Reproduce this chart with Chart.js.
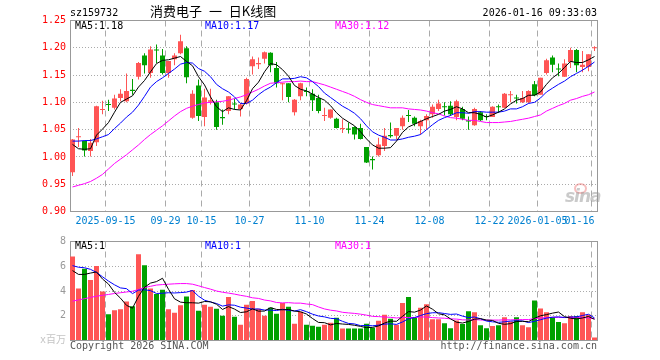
<!DOCTYPE html>
<html><head><meta charset="utf-8">
<script src="https://cdn.jsdelivr.net/npm/chart.js@4"></script>
<style>
html,body{margin:0;padding:0;background:#fff;}
#wrap{position:relative;width:660px;height:360px;overflow:hidden;font-family:"DejaVu Sans Mono",monospace;}
canvas{position:absolute;left:0;}
.t{position:absolute;white-space:pre;font-size:10px;line-height:12px;font-family:"DejaVu Sans Mono",monospace;}
</style></head><body>
<div id="wrap">
<canvas id="kc" width="660" height="232" style="top:0"></canvas>
<canvas id="vc" width="660" height="128" style="top:232px"></canvas>
<div class="t" style="left:70px;top:7px;color:#000">sz159732</div>
<div class="t" style="left:150px;top:4px;font-size:13px;line-height:13px;word-spacing:4px;font-family:'Noto Sans CJK SC',sans-serif;color:#000">消费电子 一 日K线图</div>
<div class="t" style="right:63px;top:7px;color:#000">2026-01-16 09:33:03</div>
<div class="t" id="l5" style="left:75px;top:20px;color:#000"></div>
<div class="t" id="l10" style="left:205px;top:20px;color:#00f"></div>
<div class="t" id="l30" style="left:335px;top:20px;color:#f0f"></div>
<div class="t" id="v5" style="left:75px;top:240px;color:#000"></div>
<div class="t" id="v10" style="left:205px;top:240px;color:#00f"></div>
<div class="t" id="v30" style="left:335px;top:240px;color:#f0f"></div>
<div class="t" style="left:70px;top:340px;color:#555">Copyright 2026 SINA.COM</div>
<div class="t" style="right:63px;top:340px;color:#555">http://finance.sina.com.cn</div>
<div style="position:absolute;left:574px;top:183px;width:9px;height:7px;border-radius:50%;border:2px solid rgba(235,110,110,0.45);"></div>
<div style="position:absolute;left:565px;top:186px;font:italic bold 17px 'DejaVu Sans',sans-serif;color:rgba(150,150,150,0.5);letter-spacing:-1px;">sina</div>
</div>
<script>
const dates = ['2025-09-05','2025-09-08','2025-09-09','2025-09-10','2025-09-11','2025-09-12','2025-09-15','2025-09-16','2025-09-17','2025-09-18',
'2025-09-19','2025-09-22','2025-09-23','2025-09-24','2025-09-25','2025-09-26','2025-09-29','2025-09-30','2025-10-09','2025-10-10',
'2025-10-13','2025-10-14','2025-10-15','2025-10-16','2025-10-17','2025-10-20','2025-10-21','2025-10-22','2025-10-23','2025-10-24',
'2025-10-27','2025-10-28','2025-10-29','2025-10-30','2025-10-31','2025-11-03','2025-11-04','2025-11-05','2025-11-06','2025-11-07',
'2025-11-10','2025-11-11','2025-11-12','2025-11-13','2025-11-14','2025-11-17','2025-11-18','2025-11-19','2025-11-20','2025-11-21',
'2025-11-24','2025-11-25','2025-11-26','2025-11-27','2025-11-28','2025-12-01','2025-12-02','2025-12-03','2025-12-04','2025-12-05',
'2025-12-08','2025-12-09','2025-12-10','2025-12-11','2025-12-12','2025-12-15','2025-12-16','2025-12-17','2025-12-18','2025-12-19',
'2025-12-22','2025-12-23','2025-12-24','2025-12-25','2025-12-26','2025-12-29','2025-12-30','2025-12-31','2026-01-05','2026-01-06',
'2026-01-07','2026-01-08','2026-01-09','2026-01-12','2026-01-13','2026-01-14','2026-01-15','2026-01-16'];

const opens = [0.972,1.036,1.029,1.011,1.027,1.086,1.097,1.090,1.108,1.102,
1.123,1.147,1.186,1.154,1.197,1.186,1.154,1.179,1.190,1.199,
1.072,1.131,1.073,1.101,1.100,1.073,1.084,1.098,1.088,1.098,
1.166,1.170,1.180,1.191,1.163,1.133,1.135,1.082,1.111,1.121,
1.116,1.108,1.075,1.072,1.070,1.051,1.052,1.055,1.053,1.018,
0.996,1.003,1.020,1.040,1.039,1.056,1.077,1.072,1.056,1.067,
1.078,1.088,1.093,1.094,1.073,1.088,1.067,1.058,1.082,1.075,
1.073,1.093,1.090,1.113,1.109,1.100,1.100,1.133,1.114,1.154,
1.182,1.162,1.147,1.174,1.196,1.165,1.165,1.199];
const highs = [1.033,1.053,1.030,1.033,1.094,1.103,1.105,1.114,1.124,1.153,
1.143,1.174,1.190,1.203,1.206,1.198,1.176,1.190,1.224,1.203,
1.122,1.142,1.125,1.125,1.105,1.087,1.111,1.107,1.099,1.145,
1.184,1.182,1.193,1.192,1.174,1.136,1.135,1.106,1.136,1.127,
1.124,1.114,1.090,1.087,1.072,1.069,1.063,1.056,1.061,1.018,
1.001,1.035,1.053,1.063,1.053,1.076,1.086,1.074,1.068,1.078,
1.096,1.105,1.100,1.102,1.105,1.092,1.074,1.090,1.084,1.078,
1.093,1.096,1.117,1.121,1.114,1.121,1.122,1.139,1.145,1.180,
1.186,1.171,1.179,1.200,1.198,1.194,1.188,1.203];
const lows = [0.965,1.018,1.001,1.001,1.020,1.078,1.084,1.087,1.102,1.100,
1.114,1.142,1.153,1.145,1.172,1.151,1.145,1.168,1.188,1.135,
1.070,1.066,1.056,1.096,1.050,1.059,1.078,1.087,1.074,1.096,
1.151,1.161,1.171,1.155,1.127,1.104,1.100,1.076,1.104,1.111,
1.084,1.080,1.066,1.070,1.052,1.044,1.043,1.032,1.032,0.989,
0.977,1.001,1.011,1.035,1.032,1.050,1.064,1.056,1.041,1.050,
1.072,1.084,1.076,1.075,1.067,1.067,1.050,1.057,1.066,1.067,
1.073,1.081,1.090,1.100,1.098,1.099,1.098,1.111,1.114,1.151,
1.155,1.148,1.147,1.163,1.155,1.155,1.157,1.194];
const closes = [1.032,1.038,1.012,1.026,1.093,1.088,1.095,1.107,1.116,1.121,
1.121,1.172,1.168,1.197,1.195,1.154,1.176,1.186,1.212,1.146,
1.116,1.075,1.109,1.104,1.055,1.071,1.111,1.096,1.096,1.143,
1.179,1.172,1.192,1.168,1.135,1.135,1.110,1.105,1.135,1.119,
1.104,1.084,1.077,1.087,1.053,1.053,1.050,1.041,1.033,0.990,
0.994,1.023,1.039,1.038,1.053,1.072,1.075,1.061,1.066,1.075,
1.092,1.098,1.091,1.078,1.102,1.070,1.065,1.088,1.067,1.073,
1.092,1.091,1.116,1.115,1.107,1.108,1.121,1.113,1.145,1.177,
1.169,1.160,1.171,1.196,1.168,1.169,1.188,1.200];

const ma5 = [1.023,1.015,1.014,1.015,1.040,1.051,1.063,1.082,1.100,1.106,
1.112,1.128,1.140,1.156,1.171,1.177,1.178,1.181,1.184,1.175,
1.167,1.147,1.132,1.110,1.092,1.083,1.090,1.087,1.086,1.103,
1.125,1.137,1.156,1.171,1.169,1.160,1.148,1.131,1.124,1.121,
1.115,1.109,1.104,1.094,1.081,1.071,1.064,1.057,1.046,1.033,
1.022,1.016,1.016,1.017,1.029,1.045,1.055,1.060,1.065,1.070,
1.074,1.078,1.084,1.087,1.092,1.088,1.081,1.081,1.078,1.073,
1.077,1.082,1.088,1.097,1.104,1.107,1.113,1.113,1.119,1.133,
1.145,1.153,1.164,1.175,1.173,1.173,1.178,1.184];
const ma10 = [1.029,1.029,1.030,1.030,1.033,1.037,1.041,1.052,1.062,1.073,
1.082,1.095,1.111,1.128,1.138,1.145,1.153,1.161,1.170,1.173,
1.172,1.162,1.157,1.147,1.133,1.125,1.119,1.110,1.098,1.098,
1.104,1.114,1.122,1.128,1.136,1.143,1.143,1.144,1.147,1.145,
1.138,1.129,1.117,1.109,1.101,1.093,1.087,1.080,1.070,1.057,
1.046,1.040,1.036,1.031,1.031,1.033,1.036,1.038,1.041,1.050,
1.059,1.067,1.072,1.076,1.081,1.081,1.080,1.083,1.083,1.082,
1.082,1.082,1.084,1.088,1.088,1.092,1.098,1.100,1.108,1.119,
1.126,1.133,1.139,1.147,1.153,1.159,1.166,1.174];
const ma30 = [0.945,0.948,0.951,0.955,0.961,0.968,0.978,0.988,0.996,1.004,
1.013,1.022,1.032,1.041,1.049,1.057,1.066,1.075,1.083,1.089,
1.093,1.096,1.099,1.100,1.101,1.102,1.104,1.107,1.110,1.114,
1.119,1.124,1.130,1.135,1.136,1.137,1.138,1.138,1.139,1.138,
1.138,1.135,1.132,1.128,1.124,1.120,1.116,1.111,1.105,1.100,
1.096,1.094,1.092,1.090,1.090,1.090,1.088,1.087,1.086,1.084,
1.081,1.079,1.075,1.072,1.071,1.069,1.067,1.067,1.065,1.063,
1.063,1.063,1.064,1.065,1.067,1.069,1.071,1.074,1.077,1.084,
1.089,1.094,1.098,1.104,1.107,1.111,1.114,1.119];

const volumes = [6.79,4.21,5.79,4.89,6.03,3.95,2.13,2.45,2.53,3.16,
2.76,6.97,6.08,4.21,3.76,4.11,2.53,2.24,2.84,3.55,
4.08,2.40,2.88,2.72,2.56,2.00,3.52,1.92,1.28,2.88,
3.20,2.56,2.00,2.64,2.16,3.04,2.72,1.36,2.32,1.28,
1.20,1.12,1.28,1.44,1.84,0.96,0.96,0.96,0.96,1.36,
1.04,1.60,2.08,1.76,1.28,3.04,3.52,1.84,2.64,2.92,
1.71,1.71,1.39,1.00,1.61,1.34,2.37,2.29,1.24,1.00,
1.18,1.24,1.87,1.53,1.87,1.24,1.08,3.24,2.58,2.29,
1.87,1.50,1.39,1.97,1.97,2.29,2.08,0.24];
const vma5 = [5.65,5.34,5.34,5.45,5.54,4.97,4.56,3.89,3.42,2.84,
2.61,3.57,4.30,4.64,4.76,5.03,4.14,3.37,3.10,3.05,
3.05,3.02,3.15,3.13,2.93,2.51,2.74,2.54,2.26,2.32,
2.56,2.37,2.38,2.66,2.51,2.48,2.51,2.38,2.32,2.14,
1.78,1.46,1.44,1.26,1.38,1.33,1.30,1.23,1.14,1.04,
1.06,1.18,1.41,1.57,1.55,1.95,2.34,2.29,2.46,2.79,
2.53,2.16,2.07,1.75,1.48,1.41,1.54,1.72,1.77,1.65,
1.62,1.39,1.31,1.36,1.54,1.55,1.52,1.79,2.00,2.09,
2.21,2.30,1.93,1.80,1.74,1.82,1.94,1.71];
const vma10 = [6.05,5.92,5.88,5.75,5.50,5.15,4.80,4.50,4.25,4.19,
3.79,4.07,4.10,4.03,3.80,3.82,3.86,3.84,3.87,3.91,
4.04,3.58,3.26,3.11,2.99,2.78,2.88,2.85,2.69,2.62,
2.54,2.55,2.46,2.46,2.42,2.52,2.44,2.38,2.49,2.33,
2.13,1.98,1.91,1.79,1.76,1.55,1.38,1.34,1.20,1.21,
1.19,1.24,1.32,1.35,1.30,1.50,1.76,1.85,2.02,2.17,
2.24,2.25,2.18,2.11,2.14,1.97,1.85,1.90,1.76,1.57,
1.51,1.47,1.51,1.57,1.59,1.58,1.45,1.55,1.68,1.81,
1.88,1.91,1.86,1.90,1.91,2.02,2.12,1.82];
const vma30 = [3.18,3.28,3.38,3.48,3.58,3.65,3.72,3.80,3.86,3.92,
3.98,4.12,4.28,4.38,4.48,4.52,4.55,4.58,4.60,4.60,
4.55,4.42,4.28,4.15,4.00,3.90,3.83,3.75,3.65,3.57,
3.45,3.40,3.27,3.20,3.07,3.04,3.06,3.02,3.02,2.95,
2.90,2.71,2.55,2.45,2.39,2.28,2.23,2.19,2.13,2.05,
1.95,1.93,1.90,1.87,1.82,1.86,1.86,1.86,1.90,1.90,
1.85,1.82,1.80,1.75,1.73,1.67,1.66,1.69,1.66,1.65,
1.65,1.65,1.67,1.67,1.68,1.69,1.69,1.77,1.82,1.85,
1.88,1.87,1.85,1.86,1.88,1.86,1.81,1.76];

const xTickDates = ['2025-09-15','2025-09-29','2025-10-15','2025-10-27','2025-11-10','2025-11-24','2025-12-08','2025-12-22','2026-01-05','2026-01-16'];
const xTickText  = ['2025-09-15','09-29','10-15','10-27','11-10','11-24','12-08','12-22','2026-01-05','01-16'];
const priceTicks = [0.90,0.95,1.00,1.05,1.10,1.15,1.20,1.25];
const volTicks = [0,2,4,6,8];

Chart.defaults.font.family = "'DejaVu Sans Mono', 'Noto Sans CJK SC', monospace";
Chart.defaults.font.size = 10;

const UP = '#ff5555', DN = '#00a000';
const cColor = closes.map((c, i) => c >= opens[i] ? UP : DN);
const labelAt = {};
xTickDates.forEach((d, j) => { labelAt[dates.indexOf(d)] = xTickText[j]; });
const lastIdx = dates.length - 1;
const NONE = 'rgba(0,0,0,0)';

function xAxis(show, h) {
  return {
    type: 'category', offset: true,
    grid: { offset: true, drawTicks: false, lineWidth: 1,
      color: c => (c.index in labelAt) ? '#aaa' : NONE },
    border: { display: false, dash: [6, 4] },
    ticks: { display: show, autoSkip: false, maxRotation: 0, minRotation: 0, padding: 4, labelOffset: -3,
      color: '#0080d0',
      callback: (v, i) => { const t = labelAt[i]; if (t === undefined) return ''; return i === lastIdx ? t + '    ' : t; } },
    afterFit: s => { s.height = h; }
  };
}
const frame = { id: 'frame', beforeDatasetsDraw(chart) {
  const a = chart.chartArea, ctx = chart.ctx;
  const l = Math.round(a.left), r = Math.round(a.right);
  ctx.save(); ctx.strokeStyle = '#999'; ctx.lineWidth = 1;
  ctx.strokeRect(l + 0.5, a.top, r - l - 1, a.bottom - a.top);
  ctx.restore();
}};
const line = (data, color) => ({ type: 'line', data, borderColor: color, borderWidth: 1, pointRadius: 0, tension: 0, fill: false, order: 0 });
const common = { responsive: false, animation: false, devicePixelRatio: 1, events: [],
  plugins: { legend: { display: false }, tooltip: { enabled: false }, title: { display: false } } };

new Chart(document.getElementById('kc'), {
  type: 'bar',
  data: { labels: dates, datasets: [
    line(ma5, '#000'), line(ma10, '#0000ff'), line(ma30, '#ff00ff'),
    { type: 'bar', data: opens.map((o, i) => [o, closes[i]]), backgroundColor: cColor, barThickness: 5, minBarLength: 1, grouped: false, borderWidth: 0, inflateAmount: 0, order: 1 },
    { type: 'bar', data: lows.map((l, i) => [l, highs[i]]), backgroundColor: cColor, barThickness: 1, grouped: false, borderWidth: 0, inflateAmount: 0, order: 2 }
  ]},
  options: Object.assign({}, common, {
    layout: { padding: { left: 0, right: 62.5, top: 20.5, bottom: 0 } },
    scales: {
      x: xAxis(true, 20.5),
      y: { type: 'linear', position: 'left', min: priceTicks[0], max: priceTicks[priceTicks.length - 1],
        afterBuildTicks: s => { s.ticks = priceTicks.map(v => ({ value: v })); },
        grid: { drawTicks: false, color: c => (c.tick && (c.tick.value === priceTicks[0] || c.tick.value === priceTicks[priceTicks.length - 1])) ? NONE : '#aaa' },
        border: { display: false, dash: [1, 2] },
        ticks: { padding: 3.5, color: '#f00', callback: v => Number(v).toFixed(2) },
        afterFit: s => { s.width = 69.5; } }
    }
  }),
  plugins: [frame]
});

new Chart(document.getElementById('vc'), {
  type: 'bar',
  data: { labels: dates, datasets: [
    line(vma5, '#000'), line(vma10, '#0000ff'), line(vma30, '#ff00ff'),
    { type: 'bar', data: volumes, backgroundColor: cColor, barThickness: 5, borderWidth: 0, inflateAmount: 0, order: 1 }
  ]},
  options: Object.assign({}, common, {
    layout: { padding: { left: 0, right: 62.5, top: 8.5, bottom: 0 } },
    scales: {
      x: xAxis(false, 19.5),
      y: { type: 'linear', position: 'left', min: volTicks[0], max: volTicks[volTicks.length - 1],
        afterBuildTicks: s => { s.ticks = volTicks.map(v => ({ value: v })); },
        grid: { drawTicks: false, color: c => (c.tick && (c.tick.value === volTicks[0] || c.tick.value === volTicks[volTicks.length - 1])) ? NONE : '#aaa' },
        border: { display: false, dash: [1, 2] },
        ticks: { padding: 3.5, color: c => (c.tick && c.tick.value === 0) ? '#c4c4c4' : '#999',
          callback: v => v === 0 ? 'x百万' : String(v) },
        afterFit: s => { s.width = 69.5; } }
    }
  }),
  plugins: [frame]
});

const last = a => a[a.length - 1];
document.getElementById('l5').textContent = 'MA5:' + last(ma5).toFixed(2);
document.getElementById('l10').textContent = 'MA10:' + last(ma10).toFixed(2);
document.getElementById('l30').textContent = 'MA30:' + last(ma30).toFixed(2);
document.getElementById('v5').textContent = 'MA5:' + Math.floor(last(vma5));
document.getElementById('v10').textContent = 'MA10:' + Math.floor(last(vma10));
document.getElementById('v30').textContent = 'MA30:' + Math.floor(last(vma30));
</script>
</body></html>
